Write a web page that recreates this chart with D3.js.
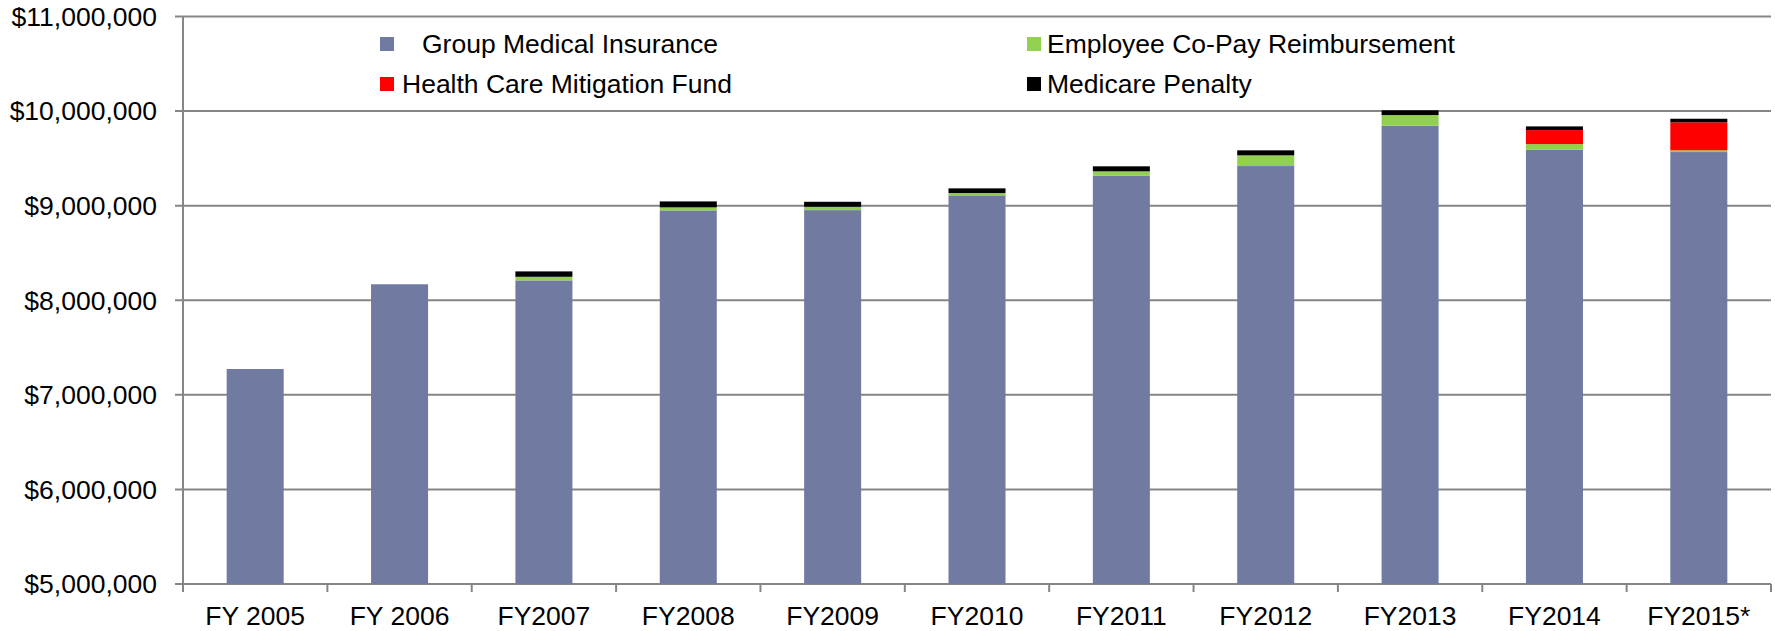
<!DOCTYPE html>
<html>
<head>
<meta charset="utf-8">
<script src="https://cdn.jsdelivr.net/npm/d3@7/dist/d3.min.js"></script>
<style>
    html, body { margin: 0; padding: 0; background: #fff; }
    svg { display: block; font-family: "Liberation Sans", Arial, sans-serif; }
</style>
</head>
<body>
<svg id="chart" width="1775" height="631"></svg>
<script>
// data
const categories = ["FY 2005", "FY 2006", "FY2007", "FY2008", "FY2009", "FY2010", "FY2011", "FY2012", "FY2013", "FY2014", "FY2015*"];
const groupMedical = [7273000, 8169000, 8210000, 8950000, 8953000, 9109000, 9316000, 9419000, 9846000, 9591000, 9567000];
const coPay = [0, 0, 38000, 32000, 35000, 24000, 47000, 113000, 112000, 60000, 18000];
const mitigation = [0, 0, 0, 0, 0, 0, 0, 0, 0, 148000, 296000];
const medicare = [0, 0, 57000, 63000, 53000, 50000, 53000, 53000, 50000, 39000, 38000];
const yTicks = [5000000, 6000000, 7000000, 8000000, 9000000, 10000000, 11000000];

const seriesNames = ["Group Medical Insurance", "Employee Co-Pay Reimbursement", "Health Care Mitigation Fund", "Medicare Penalty"];
const seriesColors = ["#717ba2", "#92d050", "#ff0000", "#000000"];
const seriesValues = [groupMedical, coPay, mitigation, medicare];

const svg = d3.select("#chart");
const margin = {left: 183, right: 4, top: 16.5, bottom: 584};
const FONT = "26.5px";

const x = d3.scaleBand()
    .domain(categories)
    .range([margin.left, 1775 - margin.right])
    .padding(0);
const y = d3.scaleLinear()
    .domain([5000000, 11000000])
    .range([margin.bottom, margin.top]);

const barWidth = x.bandwidth() * 0.395;
const fmt = d => "$" + d3.format(",")(d);

// gridlines + y ticks
svg.append("g").selectAll("line")
    .data(yTicks)
    .join("line")
    .attr("x1", margin.left - 8)
    .attr("x2", x.range()[1])
    .attr("y1", d => y(d))
    .attr("y2", d => y(d))
    .style("stroke", "#868686")
    .style("stroke-width", 2);

svg.append("g").selectAll("text")
    .data(yTicks)
    .join("text")
    .attr("x", 157)
    .attr("y", d => y(d))
    .attr("dy", "0.35em")
    .attr("text-anchor", "end")
    .style("font-size", FONT)
    .style("fill", "#000")
    .text(fmt);

// stack the series
const table = categories.map((c, i) => {
    const row = {cat: c};
    seriesNames.forEach((n, k) => row[n] = seriesValues[k][i]);
    return row;
});
const stacked = d3.stack().keys(seriesNames)(table);

svg.append("g").selectAll("g")
    .data(stacked)
    .join("g")
    .style("fill", (d, i) => seriesColors[i])
    .selectAll("rect")
    .data(d => d.filter(p => p[1] - p[0] > 0))
    .join("rect")
    .attr("x", d => x(d.data.cat) + (x.bandwidth() - barWidth) / 2)
    .attr("width", barWidth)
    .attr("y", d => y(Math.max(d[1], 5000000)))
    .attr("height", d => y(Math.max(d[0], 5000000)) - y(Math.max(d[1], 5000000)));

// axes lines
svg.append("line")
    .attr("x1", margin.left).attr("x2", margin.left)
    .attr("y1", margin.top).attr("y2", margin.bottom + 8)
    .style("stroke", "#868686").style("stroke-width", 2);

const bounds = categories.map(c => x(c)).concat([x.range()[1]]);
svg.append("g").selectAll("line")
    .data(bounds)
    .join("line")
    .attr("x1", d => d).attr("x2", d => d)
    .attr("y1", margin.bottom).attr("y2", margin.bottom + 8)
    .style("stroke", "#868686").style("stroke-width", 2);

svg.append("g").selectAll("text")
    .data(categories)
    .join("text")
    .attr("x", d => x(d) + x.bandwidth() / 2)
    .attr("y", 625)
    .attr("text-anchor", "middle")
    .style("font-size", FONT)
    .text(d => d);

// legend
const legendItems = [
    {name: "Group Medical Insurance", color: seriesColors[0], sx: 380, tx: 422, cy: 44},
    {name: "Employee Co-Pay Reimbursement", color: seriesColors[1], sx: 1027, tx: 1047, cy: 44},
    {name: "Health Care Mitigation Fund", color: seriesColors[2], sx: 380, tx: 402, cy: 84},
    {name: "Medicare Penalty", color: seriesColors[3], sx: 1027, tx: 1047, cy: 84}
];
const legend = svg.append("g").selectAll("g")
    .data(legendItems)
    .join("g");
legend.append("rect")
    .attr("x", d => d.sx)
    .attr("y", d => d.cy - 7)
    .attr("width", 14)
    .attr("height", 14)
    .style("fill", d => d.color);
legend.append("text")
    .attr("x", d => d.tx)
    .attr("y", d => d.cy)
    .attr("dy", "0.35em")
    .style("font-size", FONT)
    .text(d => d.name);
</script>
</body>
</html>
